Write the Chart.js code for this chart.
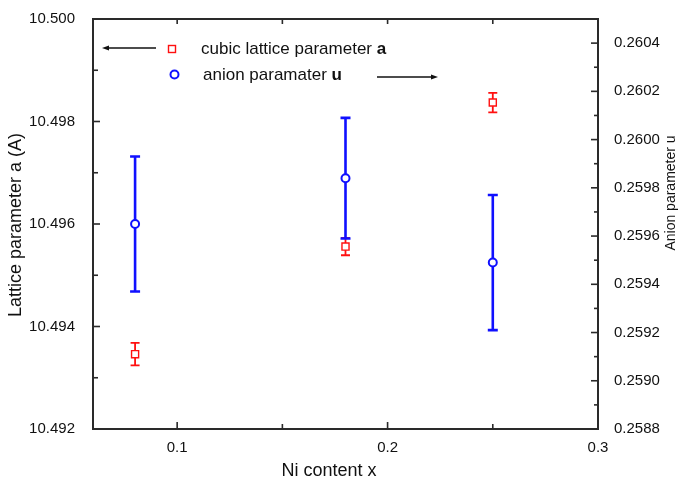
<!DOCTYPE html>
<html lang="en">
<head>
  <meta charset="UTF-8" />
  <title>Lattice parameters vs Ni content</title>
  <script src="https://cdn.jsdelivr.net/npm/chart.js"></script>
  <style>
    html, body { margin: 0; padding: 0; background: #fff; }
  </style>
</head>
<body>
  <canvas id="grafico" width="681" height="482"></canvas>

  <script>
    // datos
    const niContent = [0.08, 0.18, 0.25];
    const latticeA = [10.49346, 10.49556, 10.49837];
    const latticeErr = [0.00022, 0.00017, 0.00019];
    const anionU = [0.25965, 0.25984, 0.25949];
    const anionErr = [0.00028, 0.00025, 0.00028];

    const xMajor = [0.1, 0.2, 0.3];
    const xMinor = [0.15, 0.25];
    const leftMajor = [10.492, 10.494, 10.496, 10.498, 10.5];
    const leftMinor = [10.493, 10.495, 10.497, 10.499];
    const rightMajor = [0.2588, 0.259, 0.2592, 0.2594, 0.2596, 0.2598, 0.26, 0.2602, 0.2604];
    const rightMinor = [0.2589, 0.2591, 0.2593, 0.2595, 0.2597, 0.2599, 0.2601, 0.2603];

    const FONT = "'Liberation Sans', Arial, sans-serif";
    const RED = "#ff1010";
    const BLUE = "#1010ff";
    const INK = "#2a2a2a";

    const isMajor = (list, v) => list.some((m) => Math.abs(m - v) < 1e-9);

    // barras de error
    const errorBars = {
      id: "errorBars",
      beforeDatasetsDraw(chart) {
        const { ctx, scales } = chart;
        const draw = (ys, errs, yScale, color, lw, cap) => {
          ctx.save();
          ctx.strokeStyle = color;
          ctx.lineWidth = lw;
          niContent.forEach((x, i) => {
            const px = scales.x.getPixelForValue(x);
            const top = yScale.getPixelForValue(ys[i] + errs[i]);
            const bot = yScale.getPixelForValue(ys[i] - errs[i]);
            ctx.beginPath();
            ctx.moveTo(px, top);
            ctx.lineTo(px, bot);
            ctx.moveTo(px - cap / 2, top);
            ctx.lineTo(px + cap / 2, top);
            ctx.moveTo(px - cap / 2, bot);
            ctx.lineTo(px + cap / 2, bot);
            ctx.stroke();
          });
          ctx.restore();
        };
        draw(latticeA, latticeErr, scales.y, RED, 1.8, 9);
        draw(anionU, anionErr, scales.y1, BLUE, 2.6, 10);
      },
    };

    // marco, marcas hacia dentro, leyenda y titulos
    const decor = {
      id: "decor",
      afterDraw(chart) {
        const { ctx, chartArea: a, scales } = chart;
        ctx.save();
        ctx.strokeStyle = INK;
        ctx.lineWidth = 1.6;

        scales.x.ticks.forEach((t) => {
          const px = scales.x.getPixelForValue(t.value);
          const len = isMajor(xMajor, t.value) ? 7 : 5;
          ctx.beginPath();
          ctx.moveTo(px, a.bottom);
          ctx.lineTo(px, a.bottom - len);
          ctx.moveTo(px, a.top);
          ctx.lineTo(px, a.top + 5);
          ctx.stroke();
        });
        scales.y.ticks.forEach((t) => {
          const py = scales.y.getPixelForValue(t.value);
          const len = isMajor(leftMajor, t.value) ? 7 : 5;
          ctx.beginPath();
          ctx.moveTo(a.left, py);
          ctx.lineTo(a.left + len, py);
          ctx.stroke();
        });
        scales.y1.ticks.forEach((t) => {
          const py = scales.y1.getPixelForValue(t.value);
          const len = isMajor(rightMajor, t.value) ? 7 : 4;
          ctx.beginPath();
          ctx.moveTo(a.right, py);
          ctx.lineTo(a.right - len, py);
          ctx.stroke();
        });

        ctx.lineWidth = 2;
        ctx.strokeRect(a.left, a.top, a.right - a.left, a.bottom - a.top);

        // leyenda
        ctx.fillStyle = "#fff";
        ctx.strokeStyle = RED;
        ctx.lineWidth = 1.4;
        ctx.fillRect(168.5, 45.5, 7, 7);
        ctx.strokeRect(168.5, 45.5, 7, 7);
        ctx.strokeStyle = BLUE;
        ctx.lineWidth = 2;
        ctx.beginPath();
        ctx.arc(174.5, 74.5, 4, 0, Math.PI * 2);
        ctx.fill();
        ctx.stroke();

        ctx.fillStyle = "#111";
        ctx.textBaseline = "middle";
        ctx.textAlign = "left";
        ctx.font = "17px " + FONT;
        const t1 = "cubic lattice parameter ";
        ctx.fillText(t1, 201, 49);
        const w1 = ctx.measureText(t1).width;
        const t2 = "anion paramater ";
        ctx.fillText(t2, 203, 75);
        const w2 = ctx.measureText(t2).width;
        ctx.font = "bold 17px " + FONT;
        ctx.fillText("a", 201 + w1, 49);
        ctx.fillText("u", 203 + w2, 75);

        // flechas
        ctx.strokeStyle = "#111";
        ctx.fillStyle = "#111";
        ctx.lineWidth = 1.5;
        ctx.beginPath();
        ctx.moveTo(156, 48);
        ctx.lineTo(106, 48);
        ctx.stroke();
        ctx.beginPath();
        ctx.moveTo(102, 48);
        ctx.lineTo(109, 45.5);
        ctx.lineTo(109, 50.5);
        ctx.closePath();
        ctx.fill();
        ctx.beginPath();
        ctx.moveTo(377, 77);
        ctx.lineTo(433, 77);
        ctx.stroke();
        ctx.beginPath();
        ctx.moveTo(438, 77);
        ctx.lineTo(431, 74.5);
        ctx.lineTo(431, 79.5);
        ctx.closePath();
        ctx.fill();

        // titulos de ejes
        ctx.fillStyle = "#111";
        ctx.textAlign = "center";
        ctx.font = "18px " + FONT;
        ctx.fillText("Ni content x", 329, 471);
        ctx.save();
        ctx.translate(16, 225);
        ctx.rotate(-Math.PI / 2);
        ctx.fillText("Lattice parameter a (A)", 0, 0);
        ctx.restore();
        ctx.save();
        ctx.font = "14px " + FONT;
        ctx.translate(671, 193);
        ctx.rotate(-Math.PI / 2);
        ctx.fillText("Anion parameter u", 0, 0);
        ctx.restore();

        ctx.restore();
      },
    };

    const tickFont = { family: FONT, size: 15 };

    new Chart(document.getElementById("grafico"), {
      type: "scatter",
      data: {
        datasets: [
          {
            label: "cubic lattice parameter a",
            data: niContent.map((x, i) => ({ x: x, y: latticeA[i] })),
            yAxisID: "y",
            pointStyle: "rect",
            pointRadius: 5,
            pointBorderWidth: 1.4,
            borderColor: RED,
            backgroundColor: "#fff",
          },
          {
            label: "anion paramater u",
            data: niContent.map((x, i) => ({ x: x, y: anionU[i] })),
            yAxisID: "y1",
            pointStyle: "circle",
            pointRadius: 4,
            pointBorderWidth: 2,
            borderColor: BLUE,
            backgroundColor: "#fff",
          },
        ],
      },
      options: {
        responsive: false,
        animation: false,
        layout: { padding: { top: 19, left: 0, right: 0, bottom: 0 } },
        plugins: {
          legend: { display: false },
          tooltip: { enabled: false },
        },
        scales: {
          x: {
            type: "linear",
            min: 0.06,
            max: 0.3,
            grid: { display: false },
            border: { display: false },
            afterBuildTicks: (s) => {
              s.ticks = xMajor.concat(xMinor).map((v) => ({ value: v }));
            },
            afterFit: (s) => { s.height = 53; },
            ticks: {
              autoSkip: false,
              maxRotation: 0,
              padding: 2,
              color: "#111",
              font: tickFont,
              callback: (v) => (isMajor(xMajor, v) ? v.toFixed(1) : ""),
            },
          },
          y: {
            position: "left",
            min: 10.492,
            max: 10.5,
            grid: { display: false },
            border: { display: false },
            afterBuildTicks: (s) => {
              s.ticks = leftMajor.concat(leftMinor).map((v) => ({ value: v }));
            },
            afterFit: (s) => { s.width = 93; },
            ticks: {
              autoSkip: false,
              padding: 10,
              color: "#111",
              font: tickFont,
              callback: (v) => (isMajor(leftMajor, v) ? v.toFixed(3) : ""),
            },
          },
          y1: {
            position: "right",
            min: 0.2588,
            max: 0.2605,
            grid: { display: false },
            border: { display: false },
            afterBuildTicks: (s) => {
              s.ticks = rightMajor.concat(rightMinor).map((v) => ({ value: v }));
            },
            afterFit: (s) => { s.width = 83; },
            ticks: {
              autoSkip: false,
              padding: 8,
              color: "#111",
              font: tickFont,
              callback: (v) => (isMajor(rightMajor, v) ? v.toFixed(4) : ""),
            },
          },
        },
      },
      plugins: [errorBars, decor],
    });
  </script>
</body>
</html>
